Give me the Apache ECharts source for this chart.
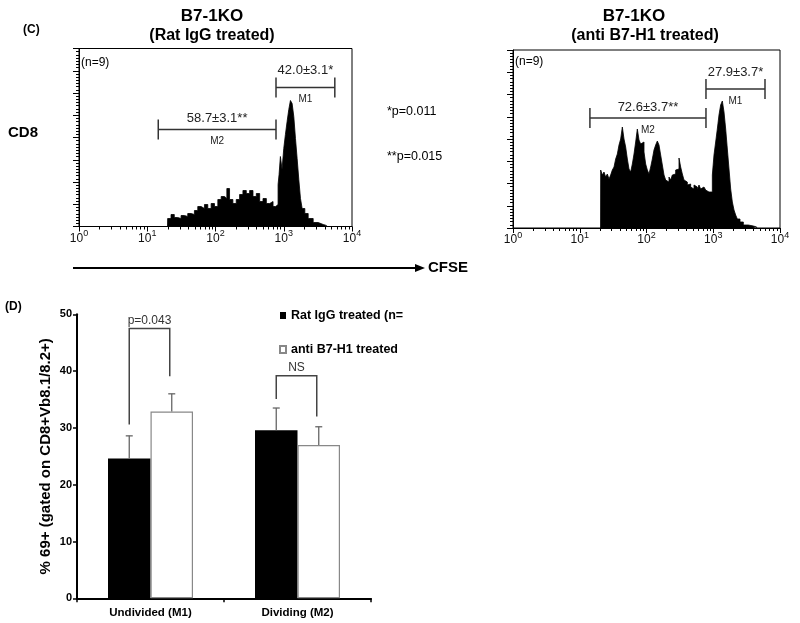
<!DOCTYPE html>
<html><head><meta charset="utf-8">
<script src="https://cdn.jsdelivr.net/npm/echarts@6/dist/echarts.min.js"></script>
<style>html,body{margin:0;padding:0;background:#fff}#c{width:800px;height:623px}</style>
</head><body><div id="c"></div>
<script>
const FONT = '"Liberation Sans", Arial, sans-serif';

// ---------- Panel C: CFSE histograms (CFSE intensity, events) ----------
const cfseLeft = [19.8, 19.9, 22.3, 24.9, 27.9, 31.3, 35.0, 39.2, 43.9, 49.1, 55.0, 61.5, 68.9, 77.1, 86.3, 96.6, 108.2, 121.1, 135.6, 146.7, 160.6, 179.8, 201.3, 225.4, 252.3, 282.5, 316.2, 354.0, 396.3, 443.7, 496.7, 556.1, 622.6, 696.9, 762.3, 825.6, 853.9, 893.1, 944.5, 1000, 1058, 1120, 1185, 1253, 1326, 1403, 1485, 1571, 1662, 1758, 1860, 2037, 2280, 2699, 3199, 3788, 4241];
const countsLeft = [0, 8, 12, 9, 8, 11, 10, 13, 12, 16, 20, 18, 22, 18, 23, 20, 27, 30, 28, 38, 27, 23, 27, 32, 36, 33, 36, 30, 33, 25, 28, 23, 25, 20, 22, 42, 52, 70, 57, 78, 92, 105, 117, 126, 123, 110, 88, 68, 47, 28, 18, 13, 8, 4, 2, 1, 0];

const cfseRight = [20.5, 20.58, 21.79, 23.08, 24.45, 25.90, 27.43, 29.05, 30.77, 32.60, 34.52, 36.57, 38.73, 41.02, 43.45, 46.02, 48.74, 51.63, 54.68, 57.92, 61.35, 64.98, 68.82, 72.90, 77.21, 81.78, 86.62, 91.74, 97.17, 102.9, 109.0, 115.5, 122.3, 129.5, 137.2, 145.3, 153.9, 163.0, 172.7, 182.9, 193.7, 205.2, 217.3, 230.2, 243.8, 258.2, 273.5, 289.7, 306.9, 325.0, 344.2, 364.6, 386.2, 409.0, 433.2, 458.9, 486.0, 514.7, 545.2, 577.5, 611.6, 647.8, 686.1, 726.7, 769.7, 815.3, 863.5, 914.6, 968.7, 1026, 1087, 1151, 1219, 1291, 1368, 1449, 1535, 1626, 1722, 1824, 1932, 2046, 2167, 2295, 2516, 2823, 3355, 3986, 4472];
const countsRight = [0, 58, 53, 56, 51, 54, 49, 53, 58, 61, 69, 74, 83, 89, 101, 89, 81, 69, 59, 56, 64, 74, 86, 99, 88, 84, 86, 76, 64, 58, 54, 61, 69, 78, 83, 87, 83, 73, 63, 53, 48, 46, 51, 48, 53, 54, 58, 59, 70, 61, 54, 48, 46, 43, 44, 41, 39, 43, 41, 38, 43, 39, 41, 39, 38, 36, 34, 36, 53, 73, 86, 99, 113, 123, 127, 116, 99, 79, 59, 39, 26, 18, 13, 9, 6, 3, 2, 1, 0];

const decadeTicks = [1, 10, 100, 1000, 10000];
const minorLogTicks = [2, 3, 4, 5, 6, 7, 8, 9, 20, 30, 40, 50, 60, 70, 80, 90, 200, 300, 400, 500, 600, 700, 800, 900, 2000, 3000, 4000, 5000, 6000, 7000, 8000, 9000];

// gates: [start, end, count level]
const gateNames = ['M1', 'M2'];
const gatesLeft = [[770, 5600, 139], [14.5, 770, 97]];
const gateLabelsLeft = ['42.0±3.1*', '58.7±3.1**'];
const gatesRight = [[778, 5960, 139], [14.2, 778, 110]];
const gateLabelsRight = ['27.9±3.7*', '72.6±3.7**'];

// ---------- Panel D: bar chart ----------
const barCategories = ['Undivided (M1)', 'Dividing (M2)'];
const seriesNames = ['Rat IgG treated (n=', 'anti B7-H1 treated'];
const ratIgGMeans = [24.6, 29.6];
const ratIgGErr = [4.0, 3.9];
const antiB7H1Means = [32.9, 27.0];
const antiB7H1Err = [3.1, 3.2];
const bracketLabels = ['p=0.043', 'NS'];
const bracketLeftEnds = [30.6, 35.1];
const bracketRightEnds = [39.1, 32.0];
const bracketTops = [47.5, 39.2];

const BAR_W = 42.5;
const HIST_MAX = 178;

function histAxes(gi) {
  return [
    { type: 'log', logBase: 10, gridIndex: gi, min: 1, max: 10000, position: 'bottom',
      axisLine: { lineStyle: { color: '#000', width: 1 } },
      axisTick: { show: true, customValues: decadeTicks, length: 5, lineStyle: { color: '#000' } },
      axisLabel: { customValues: decadeTicks, margin: 3, color: '#111',
        formatter: v => '{b|10}{s|' + Math.round(Math.log10(v)) + '}',
        rich: { b: { fontSize: 12, fontFamily: FONT, verticalAlign: 'bottom', color: '#111' },
                s: { fontSize: 9, fontFamily: FONT, verticalAlign: 'top', padding: [0, 0, 6, 0], color: '#111' } } },
      splitLine: { show: false } },
    { type: 'log', logBase: 10, gridIndex: gi, min: 1, max: 10000, position: 'bottom',
      axisLine: { show: false },
      axisTick: { show: true, customValues: minorLogTicks, length: 3, lineStyle: { color: '#000' } },
      axisLabel: { show: false }, splitLine: { show: false } }
  ];
}
function histYAxis(gi) {
  return { type: 'value', gridIndex: gi, min: 0, max: HIST_MAX, interval: HIST_MAX / 8,
    axisLine: { show: true, lineStyle: { color: '#000' } },
    axisTick: { show: true, length: 6, lineStyle: { color: '#000' } },
    minorTick: { show: true, splitNumber: 7, length: 3, lineStyle: { color: '#000' } },
    axisLabel: { show: false }, splitLine: { show: false } };
}
function histSeries(xi, yi, xs, ys) {
  return { type: 'line', xAxisIndex: xi, yAxisIndex: yi, step: 'end', symbol: 'none',
    data: xs.map((x, i) => [x, ys[i]]),
    lineStyle: { color: '#000', width: 0.8 }, areaStyle: { color: '#000', opacity: 1 },
    silent: true, z: 2 };
}
function gateSeries(xi, yi, gates, labels) {
  return { type: 'custom', xAxisIndex: xi, yAxisIndex: yi, z: 5,
    data: gates, encode: { x: [0, 1], y: 2 },
    renderItem: (params, api) => {
      const a = api.coord([api.value(0), api.value(2)]);
      const b = api.coord([api.value(1), api.value(2)]);
      const st = { stroke: '#333', lineWidth: 1.5 };
      const mid = (a[0] + b[0]) / 2;
      const up = params.dataIndex === 0 ? 17 : 11;
      return { type: 'group', children: [
        { type: 'line', shape: { x1: a[0], y1: a[1], x2: b[0], y2: b[1] }, style: st },
        { type: 'line', shape: { x1: a[0], y1: a[1] - 10, x2: a[0], y2: a[1] + 10 }, style: st },
        { type: 'line', shape: { x1: b[0], y1: b[1] - 10, x2: b[0], y2: b[1] + 10 }, style: st },
        { type: 'text', x: mid, y: a[1] - up, style: { text: labels[params.dataIndex], fill: '#222',
            font: '13px ' + FONT, align: 'center', verticalAlign: 'middle' } },
        { type: 'text', x: mid, y: a[1] + 12, style: { text: gateNames[params.dataIndex], fill: '#222',
            font: '10px ' + FONT, align: 'center', verticalAlign: 'middle' } }
      ] };
    } };
}

const errData = barCategories.map((c, i) => [i, ratIgGMeans[i], ratIgGErr[i], -1])
  .concat(barCategories.map((c, i) => [i, antiB7H1Means[i], antiB7H1Err[i], 1]));
const bracketData = barCategories.map((c, i) => [i, bracketLeftEnds[i], bracketRightEnds[i], bracketTops[i]]);

const txt = (text, x, y, font, align) => ({ type: 'text', x, y,
  style: { text, font: font + ' ' + FONT, fill: '#000', align: align || 'left', verticalAlign: 'middle' } });

const option = {
  animation: false,
  backgroundColor: '#fff',
  grid: [
    { left: 79, top: 48.5, width: 273, height: 178, show: true, borderColor: '#000', borderWidth: 1 },
    { left: 513, top: 50, width: 267, height: 178, show: true, borderColor: '#000', borderWidth: 1 },
    { left: 77, top: 314.3, width: 294, height: 284 }
  ],
  xAxis: [
    ...histAxes(0), ...histAxes(1),
    { type: 'category', gridIndex: 2, data: barCategories,
      axisLine: { lineStyle: { color: '#000', width: 2 } },
      axisTick: { show: true, length: 4, lineStyle: { color: '#000', width: 1.5 } },
      axisLabel: { fontFamily: FONT, fontWeight: 'bold', fontSize: 11.5, color: '#000', margin: 9 } }
  ],
  yAxis: [
    histYAxis(0), histYAxis(1),
    { type: 'value', gridIndex: 2, min: 0, max: 50, interval: 10,
      name: '% 69+ (gated on CD8+Vb8.1/8.2+)', nameLocation: 'middle', nameGap: 24, nameRotate: 90,
      nameTextStyle: { fontFamily: FONT, fontWeight: 'bold', fontSize: 15, color: '#000' },
      axisLine: { show: true, lineStyle: { color: '#000', width: 2 } },
      axisTick: { show: true, length: 4, lineStyle: { color: '#000', width: 1.5 } },
      axisLabel: { fontFamily: FONT, fontWeight: 'bold', fontSize: 11, color: '#000', margin: 5 },
      splitLine: { show: false } }
  ],
  legend: { orient: 'vertical', left: 279, top: 309, padding: 0, itemWidth: 6, itemHeight: 7, itemGap: 21, icon: 'rect',
    data: seriesNames, selectedMode: false,
    textStyle: { fontFamily: FONT, fontWeight: 'bold', fontSize: 12.5, color: '#000' } },
  series: [
    histSeries(0, 0, cfseLeft, countsLeft),
    gateSeries(0, 0, gatesLeft, gateLabelsLeft),
    histSeries(2, 1, cfseRight, countsRight),
    gateSeries(2, 1, gatesRight, gateLabelsRight),
    { type: 'bar', name: seriesNames[0], xAxisIndex: 4, yAxisIndex: 2, data: ratIgGMeans,
      barWidth: BAR_W, barGap: '0%', itemStyle: { color: '#000' } },
    { type: 'bar', name: seriesNames[1], xAxisIndex: 4, yAxisIndex: 2, data: antiB7H1Means,
      barWidth: BAR_W, barGap: '0%', itemStyle: { color: '#fff', borderColor: '#888', borderWidth: 1.2 } },
    { type: 'custom', xAxisIndex: 4, yAxisIndex: 2, data: errData, encode: { x: 0, y: 1 }, z: 5,
      renderItem: (params, api) => {
        const base = api.coord([api.value(0), api.value(1)]);
        const top = api.coord([api.value(0), api.value(1) + api.value(2)]);
        const x = base[0] + api.value(3) * BAR_W / 2;
        const st = { stroke: '#666', lineWidth: 1.3 };
        return { type: 'group', children: [
          { type: 'line', shape: { x1: x, y1: base[1], x2: x, y2: top[1] }, style: st },
          { type: 'line', shape: { x1: x - 3.5, y1: top[1], x2: x + 3.5, y2: top[1] }, style: st }
        ] };
      } },
    { type: 'custom', xAxisIndex: 4, yAxisIndex: 2, data: bracketData, encode: { x: 0, y: 3 }, z: 5,
      renderItem: (params, api) => {
        const t = api.coord([api.value(0), api.value(3)]);
        const yl = api.coord([api.value(0), api.value(1)])[1];
        const yr = api.coord([api.value(0), api.value(2)])[1];
        const xl = t[0] - BAR_W / 2, xr = t[0] + BAR_W / 2 - 2;
        return { type: 'group', children: [
          { type: 'polyline', shape: { points: [[xl, yl], [xl, t[1]], [xr, t[1]], [xr, yr]] },
            style: { stroke: '#444', lineWidth: 1.5, fill: null } },
          { type: 'text', x: (xl + xr) / 2, y: t[1] - 8, style: { text: bracketLabels[params.dataIndex],
            font: '12px ' + FONT, fill: '#333', align: 'center', verticalAlign: 'middle' } }
        ] };
      } }
  ],
  graphic: [
    txt('(C)', 23, 30, 'bold 12px'),
    txt('B7-1KO', 212, 16, 'bold 17px', 'center'),
    txt('(Rat IgG treated)', 212, 36, 'bold 16px', 'center'),
    txt('B7-1KO', 634, 16, 'bold 17px', 'center'),
    txt('(anti B7-H1 treated)', 645, 36, 'bold 16px', 'center'),
    txt('(n=9)', 81, 63, '12px'),
    txt('(n=9)', 515, 62, '12px'),
    txt('CD8', 23, 133, 'bold 15px', 'center'),
    txt('*p=0.011', 387, 112, '12.5px'),
    txt('**p=0.015', 387, 157, '12.5px'),
    { type: 'line', shape: { x1: 73, y1: 268, x2: 418, y2: 268 }, style: { stroke: '#000', lineWidth: 2 } },
    { type: 'polygon', shape: { points: [[425, 268], [415, 264], [415, 272]] }, style: { fill: '#000' } },
    txt('CFSE', 428, 268, 'bold 15px'),
    txt('(D)', 5, 307, 'bold 12px')
  ]
};

const chart = echarts.init(document.getElementById('c'), null, { renderer: 'canvas' });
chart.setOption(option);
</script></body></html>
